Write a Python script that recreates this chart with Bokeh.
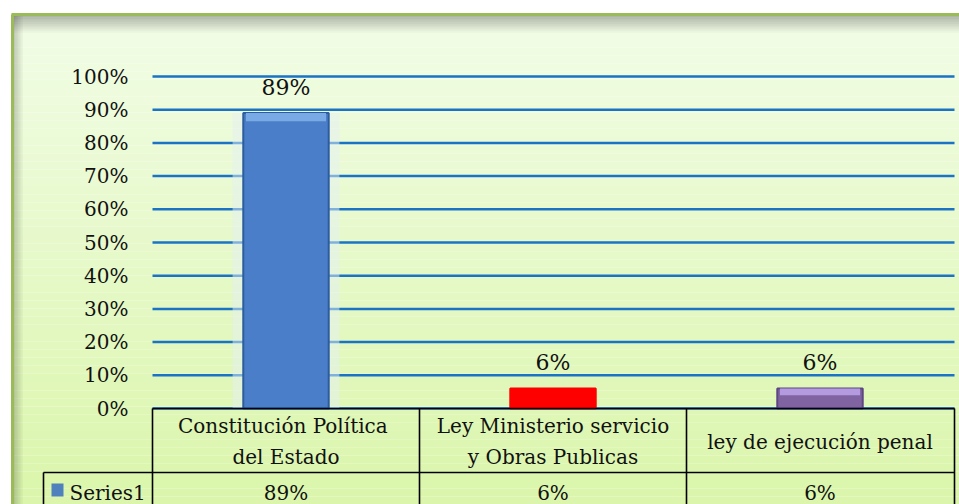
import numpy as np
from bokeh.plotting import figure
from bokeh.models import Range1d
from bokeh.core.properties import value
from bokeh.embed import file_html
from bokeh.resources import INLINE

# ---- data ----
categories = ["Constitución  Política\ndel Estado",
              "Ley Ministerio servicio\ny Obras Publicas",
              "ley de ejecución penal"]
values = [89, 6, 6]
value_labels = ["89%", "6%", "6%"]
bar_colors = ["#4a7ec9", "#ff0000", "#8064a2"]
tick_values = [0, 10, 20, 30, 40, 50, 60, 70, 80, 90, 100]
tick_labels = ["0%", "10%", "20%", "30%", "40%", "50%", "60%", "70%", "80%", "90%", "100%"]
series_name = "Series1"

# ---- layout helpers (page pixel -> data) ----
W, H = 959, 504
PX0, PX_PER_CAT = 152.0, 267.0
PY0, PY_PER_PCT = 408.0, 3.32


def X(px):
    return (px - PX0) / PX_PER_CAT


def Y(py):
    return (PY0 - py) / PY_PER_PCT


FONT = value("DejaVu Serif")

p = figure(width=W, height=H, x_range=Range1d(X(0), X(W)),
           y_range=Range1d(Y(H), Y(0)), output_backend="svg",
           toolbar_location=None, min_border=0, x_axis_type=None, y_axis_type=None)
p.grid.visible = False
p.outline_line_color = None
p.background_fill_color = "white"
p.border_fill_color = "white"

# ---- background gradient panel ----
n = 60
edges = np.linspace(14, 504, n + 1)
c_top = np.array([242, 253, 230])
c_bot = np.array([219, 246, 172])
cols = []
for i in range(n):
    t = i / (n - 1)
    c = (c_top * (1 - t) + c_bot * t).astype(int)
    cols.append("#%02x%02x%02x" % tuple(c))
p.quad(left=X(12), right=X(959), top=[Y(e) for e in edges[:-1]],
       bottom=[Y(e) for e in edges[1:]], fill_color=cols, line_color=None)

# inner shadows
sh = np.linspace(15, 34, 12)
p.quad(left=X(12), right=X(959), top=[Y(e) for e in sh[:-1]], bottom=[Y(e) for e in sh[1:]],
       fill_color="black", fill_alpha=list(np.linspace(0.28, 0.0, 11)), line_color=None)
sl = np.linspace(13, 24, 8)
p.quad(left=[X(e) for e in sl[:-1]], right=[X(e) for e in sl[1:]], top=Y(15), bottom=Y(504),
       fill_color="black", fill_alpha=list(np.linspace(0.2, 0.0, 7)), line_color=None)

# green frame
p.segment(x0=[X(11), X(12)], y0=[Y(14), Y(14)], x1=[X(959), X(12)], y1=[Y(14), Y(504)],
          line_color="#9bbb59", line_width=3)

# ---- gridlines ----
p.segment(x0=0, x1=X(954), y0=tick_values, y1=tick_values, line_color="#1a73c4", line_width=2.5)

# y tick labels
p.text(x=X(128), y=tick_values, text=tick_labels, text_align="right", text_baseline="middle",
       text_font=FONT, text_font_size="20px", text_color="#111111")

# ---- bars ----
xs = [i + 0.5 for i in range(len(values))]
p.vbar(x=xs[:1], top=values[:1], bottom=0, width=0.40, fill_color="#e4f0f4", fill_alpha=0.5,
       line_color=None)
p.vbar(x=xs, top=values, bottom=0, width=0.32, fill_color=bar_colors,
       line_color=["#2c5c9c", "#ff0000", "#5e4683"], line_width=2)
# top highlights (bevel)
p.vbar(x=[xs[0], xs[2]], top=[values[0], values[2]], bottom=[values[0] - 2.5, values[2] - 2.0],
       width=0.30, fill_color=["#7aaae6", "#b49be0"], line_color=None)

# data labels
p.text(x=xs, y=values, text=value_labels, text_align="center", text_baseline="middle",
       y_offset=-26, text_font=FONT, text_font_size="22px", text_color="#111111")

# ---- data table ----
table_lw = 1.6
p.segment(x0=[0, X(43)], x1=[X(954), X(954)], y0=[0, Y(472)], y1=[0, Y(472)],
          line_color="black", line_width=table_lw)
vx = [0, 1, 2, X(954)]
p.segment(x0=vx, x1=vx, y0=0, y1=Y(520), line_color="black", line_width=table_lw)
p.segment(x0=[X(43)], x1=[X(43)], y0=[Y(472)], y1=[Y(520)], line_color="black", line_width=table_lw)

p.text(x=xs, y=Y(441), text=categories, text_align="center", text_baseline="middle",
       text_font=FONT, text_font_size="20px", text_color="#111111", text_line_height=1.3)
p.text(x=xs, y=Y(492), text=value_labels, text_align="center", text_baseline="middle",
       text_font=FONT, text_font_size="20px", text_color="#111111")

# legend key + series name
p.quad(left=X(51), right=X(63), top=Y(483), bottom=Y(496), fill_color="#4f81bd", line_color=None)
p.text(x=X(69), y=Y(492), text=[series_name], text_align="left", text_baseline="middle",
       text_font=FONT, text_font_size="20px", text_color="#111111")

open("out.html", "w").write(file_html(p, INLINE))
